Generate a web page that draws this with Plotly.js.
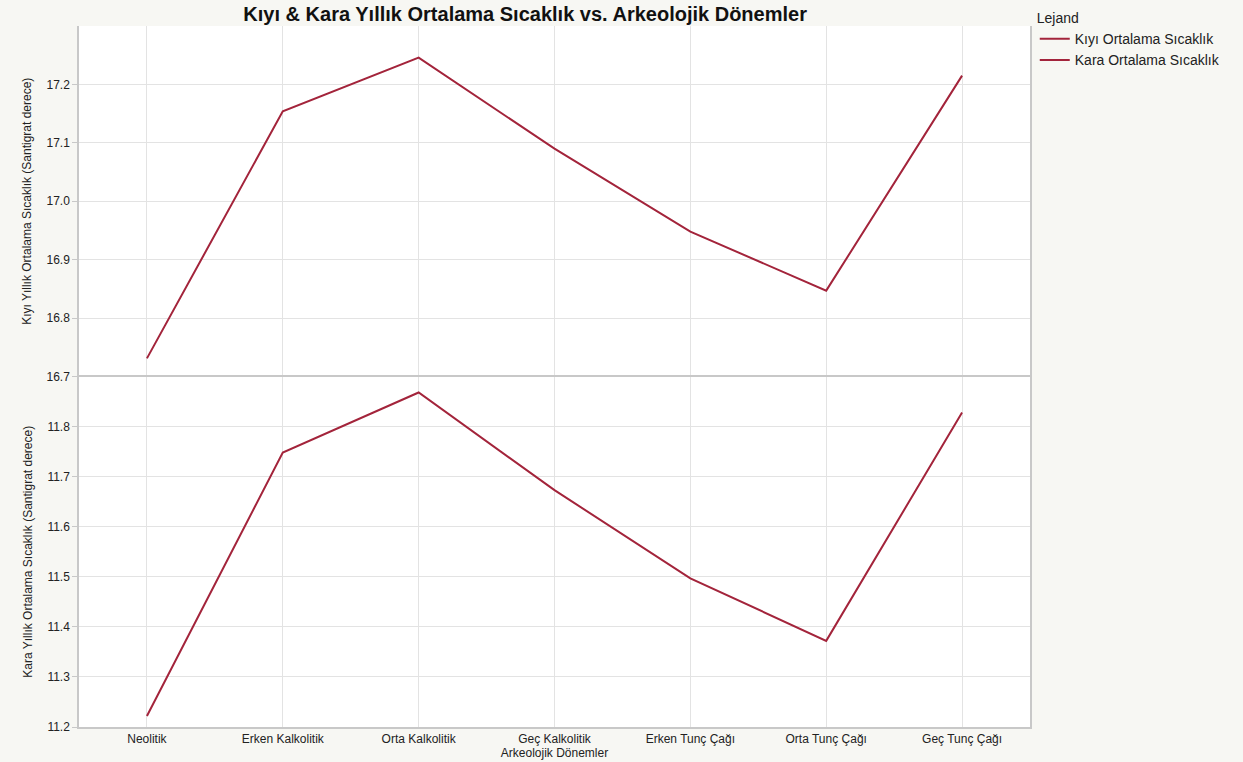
<!DOCTYPE html>
<html>
<head>
<meta charset="utf-8">
<script src="https://cdn.plot.ly/plotly-3.0.1.min.js"></script>
<style>html,body{margin:0;padding:0;background:#f7f7f3;}#chart{width:1243px;height:762px;}</style>
</head>
<body>
<div id="chart"></div>
<script>
const periods = ["Neolitik","Erken Kalkolitik","Orta Kalkolitik","Geç Kalkolitik","Erken Tunç Çağı","Orta Tunç Çağı","Geç Tunç Çağı"];
const coastal = [16.731, 17.154, 17.246, 17.090, 16.948, 16.847, 17.215];
const inland = [11.222, 11.748, 11.868, 11.673, 11.497, 11.372, 11.828];
const coastalTicks = [16.7, 16.8, 16.9, 17.0, 17.1, 17.2];
const inlandTicks = [11.2, 11.3, 11.4, 11.5, 11.6, 11.7, 11.8];

const lineColor = '#a3243b';
const gridColor = '#e3e3e3';
const frameColor = '#c8c8c8';
const font = "'Liberation Sans', Arial, Helvetica, sans-serif";

const traces = [
  {x: periods, y: coastal, type: 'scatter', mode: 'lines', name: 'Kıyı Ortalama Sıcaklık',
   xaxis: 'x', yaxis: 'y', line: {color: lineColor, width: 2}},
  {x: periods, y: inland, type: 'scatter', mode: 'lines', name: 'Kara Ortalama Sıcaklık',
   xaxis: 'x', yaxis: 'y2', line: {color: lineColor, width: 2}}
];

const yCommon = {
  showgrid: true, gridcolor: gridColor, gridwidth: 1,
  showline: true, linecolor: frameColor, linewidth: 1.5, mirror: true,
  ticks: 'outside', ticklen: 5, tickcolor: frameColor,
  tickfont: {size: 12, color: '#222'}, zeroline: false, tickformat: '.1f'
};

const layout = {
  width: 1243, height: 762,
  paper_bgcolor: '#f7f7f3', plot_bgcolor: '#ffffff',
  font: {family: font, color: '#222'},
  margin: {l: 79, r: 213, t: 26, b: 35, autoexpand: false},
  showlegend: true,
  title: {text: '<b>Kıyı & Kara Yıllık Ortalama Sıcaklık vs. Arkeolojik Dönemler</b>',
          font: {size: 20, color: '#111'}, x: 0.4225, xanchor: 'center', y: 0.982, yanchor: 'middle'},
  legend: {x: 1.005, xanchor: 'left', y: 1.03, yanchor: 'top',
           title: {text: 'Lejand', font: {size: 14}}, font: {size: 14},
           bgcolor: 'rgba(0,0,0,0)', tracegroupgap: 0, itemwidth: 30},
  xaxis: {
    domain: [0, 1], anchor: 'y2', type: 'category', range: [-0.5, 6.5],
    showgrid: true, gridcolor: gridColor, showline: true, linecolor: frameColor, linewidth: 2, mirror: true,
    ticks: '', tickfont: {size: 12, color: '#222'},
    title: {text: 'Arkeolojik Dönemler', font: {size: 12}, standoff: 2}
  },
  yaxis: Object.assign({}, yCommon, {
    domain: [0.5, 1], anchor: 'x', range: [16.7, 17.3], tickvals: coastalTicks,
    title: {text: 'Kıyı Yıllık Ortalama Sıcaklık (Santigrat derece)', font: {size: 12}, standoff: 12}
  }),
  yaxis2: Object.assign({}, yCommon, {
    domain: [0, 0.5], anchor: 'x', range: [11.2, 11.9], tickvals: inlandTicks,
    title: {text: 'Kara Yıllık Ortalama Sıcaklık (Santigrat derece)', font: {size: 12}, standoff: 12}
  })
};

Plotly.newPlot('chart', traces, layout, {displayModeBar: false});
</script>
</body>
</html>
